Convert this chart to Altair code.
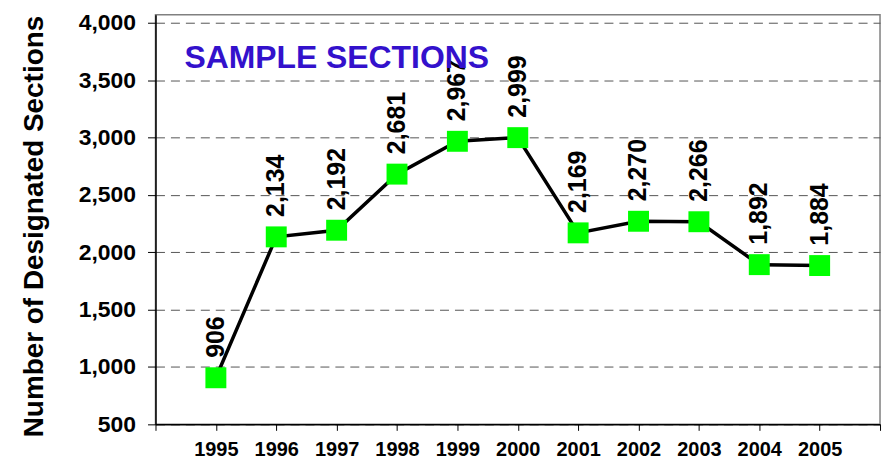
import altair as alt
import pandas as pd

years = [1995, 1996, 1997, 1998, 1999, 2000, 2001, 2002, 2003, 2004, 2005]
sections = [906, 2134, 2192, 2681, 2967, 2999, 2169, 2270, 2266, 1892, 1884]
labels = [f"{v:,}" for v in sections]
tick_years = list(range(1994, 2007))
y_ticks = [500, 1000, 1500, 2000, 2500, 3000, 3500, 4000]

df = pd.DataFrame({"year": years, "value": sections, "label": labels})

FONT = "Liberation Sans"

x = alt.X("year:Q",
          scale=alt.Scale(domain=[1994, 2006], nice=False, zero=False),
          axis=alt.Axis(values=tick_years, title=None,
                        labelExpr="datum.value < 1995 || datum.value > 2005 ? '' : datum.value + ''",
                        labelFont=FONT, labelFontSize=20, labelFontWeight="bold",
                        labelColor="black", labelPadding=9, tickSize=6,
                        tickColor="black", domainColor="black", domainWidth=1.5,
                        grid=False))
y = alt.Y("value:Q",
          scale=alt.Scale(domain=[500, 4070], nice=False, zero=False),
          axis=alt.Axis(values=y_ticks, format=",.0f", title="Number of Designated Sections",
                        labelFont=FONT, labelFontSize=23, labelFontWeight="bold",
                        labelColor="black", labelPadding=12, tickSize=8,
                        tickColor="black", domainColor="black", domainWidth=1.5,
                        grid=True, gridColor="#555555", gridDash=[9, 6], gridWidth=1,
                        titleFont=FONT, titleFontSize=28, titleFontWeight="bold",
                        titleColor="black", titleAngle=270, titleBaseline="middle",
                        titleAlign="center", titleX=-121, titleY=212))

base = alt.Chart(df)
line = base.mark_line(color="black", strokeWidth=3.5).encode(x=x, y=y)
pts = base.mark_square(size=441, color="#00FF00", opacity=1, filled=True).encode(x=x, y=y)
txt = base.mark_text(angle=270, align="left", baseline="middle", dx=20,
                     font=FONT, fontSize=25, fontWeight="bold", color="black").encode(
    x=x, y=y, text="label:N")
title = alt.Chart(pd.DataFrame({"t": ["SAMPLE SECTIONS"]})).mark_text(
    align="left", baseline="middle", font=FONT, fontSize=32, fontWeight="bold",
    color="#3311CC").encode(x=alt.value(29), y=alt.value(43), text="t:N")

chart = alt.layer(line, pts, txt, title).properties(
    width=727, height=411,
    autosize=alt.AutoSizeParams(type="none"),
    padding={"left": 148, "top": 6, "right": 6, "bottom": 36},
).configure_view(stroke="#808080", strokeWidth=1.5)

chart.save("out.html", embed_options={"renderer": "svg", "actions": False})
